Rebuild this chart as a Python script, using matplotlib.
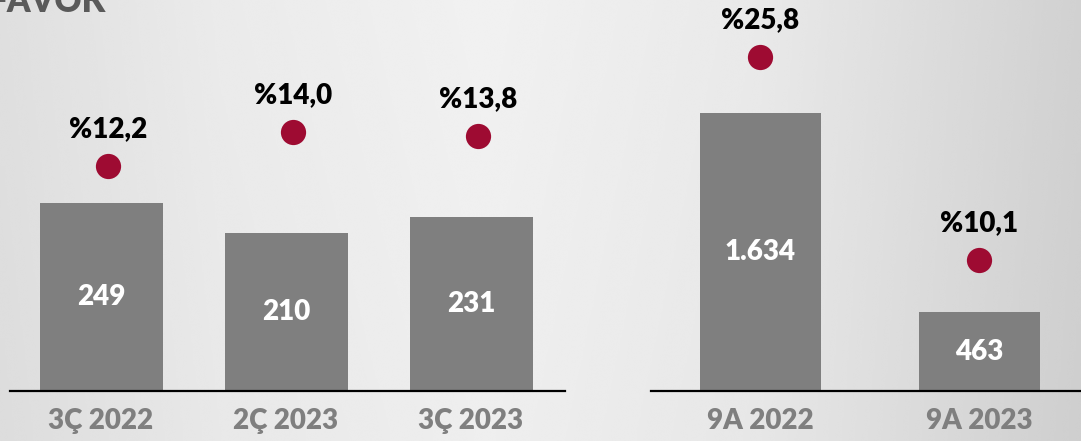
import numpy as np
import matplotlib
matplotlib.use("Agg")
import matplotlib.pyplot as plt

# ---- data ----
q_categories = ["3Ç 2022", "2Ç 2023", "3Ç 2023"]
q_values = [249, 210, 231]
q_value_labels = ["249", "210", "231"]
q_margins = [12.2, 14.0, 13.8]
q_margin_labels = ["%12,2", "%14,0", "%13,8"]

a_categories = ["9A 2022", "9A 2023"]
a_values = [1634, 463]
a_value_labels = ["1.634", "463"]
a_margins = [25.8, 10.1]
a_margin_labels = ["%25,8", "%10,1"]

title = "FAVÖK"

# ---- style ----
W, H, DPI = 1081, 441, 100
BAR = "#7f7f7f"
DOT = "#9e0b32"
FONT = "Lato"
WEIGHT = "heavy"
plt.rcParams["font.family"] = [FONT, "DejaVu Sans"]

fig = plt.figure(figsize=(W / DPI, H / DPI), dpi=DPI)

# background gradient (brushed silver)
bg = fig.add_axes([0, 0, 1, 1])
xs = np.linspace(0, 1, 500)
ys = np.linspace(0, 1, 100)
X, Y = np.meshgrid(xs, ys)
horiz = np.interp(X, [0.0, 0.2, 0.45, 0.7, 1.0], [0.875, 0.92, 0.945, 0.915, 0.82])
val = horiz - 0.01 * Y
bg.imshow(val, cmap="gray", vmin=0, vmax=1, aspect="auto", extent=[0, 1, 0, 1],
          interpolation="bicubic")
bg.set_axis_off()

def px_axes(x0, x1, y_top, y_base):
    return fig.add_axes([x0 / W, (H - y_base) / H, (x1 - x0) / W, (y_base - y_top) / H])

def panel(x0, x1, cats, vals, vlabels, margins, mlabels, spacing_px, first_center,
          bar_w_px, ymax, mlim, dot_off):
    base = 391
    ax = px_axes(x0, x1, 0, base)
    ax.patch.set_alpha(0)
    pos = np.arange(len(cats))
    left = -(first_center - x0) / spacing_px
    right = left + (x1 - x0) / spacing_px
    ax.set_xlim(left, right)
    ax.set_ylim(0, ymax)
    ax.bar(pos, vals, width=bar_w_px / spacing_px, color=BAR, zorder=2)
    for p, v, lab in zip(pos, vals, vlabels):
        ax.text(p, v / 2, lab, ha="center", va="center", color="white",
                fontsize=20, fontweight=WEIGHT, zorder=3)
    for s in ["top", "right", "left"]:
        ax.spines[s].set_visible(False)
    ax.spines["bottom"].set_linewidth(1.6)
    ax.spines["bottom"].set_color("black")
    ax.set_yticks([])
    ax.set_xticks(pos)
    ax.set_xticklabels(cats, fontsize=20, fontweight=WEIGHT, color=BAR)
    ax.tick_params(axis="x", length=0, pad=12)

    ax2 = ax.twinx()
    ax2.set_ylim(*mlim)
    ax2.set_axis_off()
    ax2.scatter(pos + dot_off, margins, s=330, color=DOT, zorder=4, linewidths=0)
    for p, m, lab in zip(pos, margins, mlabels):
        ax2.annotate(lab, (p + dot_off, m), xytext=(0, 26.5), textcoords="offset points",
                     ha="center", va="center", fontsize=20, fontweight=WEIGHT,
                     color="black")
    return ax

panel(10, 565, q_categories, q_values, q_value_labels, q_margins, q_margin_labels,
      185, 101, 123, 519, (0.3, 21.0), 0.04)
panel(651, 1081, a_categories, a_values, a_value_labels, a_margins, a_margin_labels,
      219, 760, 121, 2300, (0.0, 30.2), 0.0)

fig.text(-11 / W, 1 - 12 / H, title, ha="left", va="baseline", fontsize=24,
         fontweight=WEIGHT, color="#5a5a5a")

fig.savefig("out.png", dpi=DPI)
